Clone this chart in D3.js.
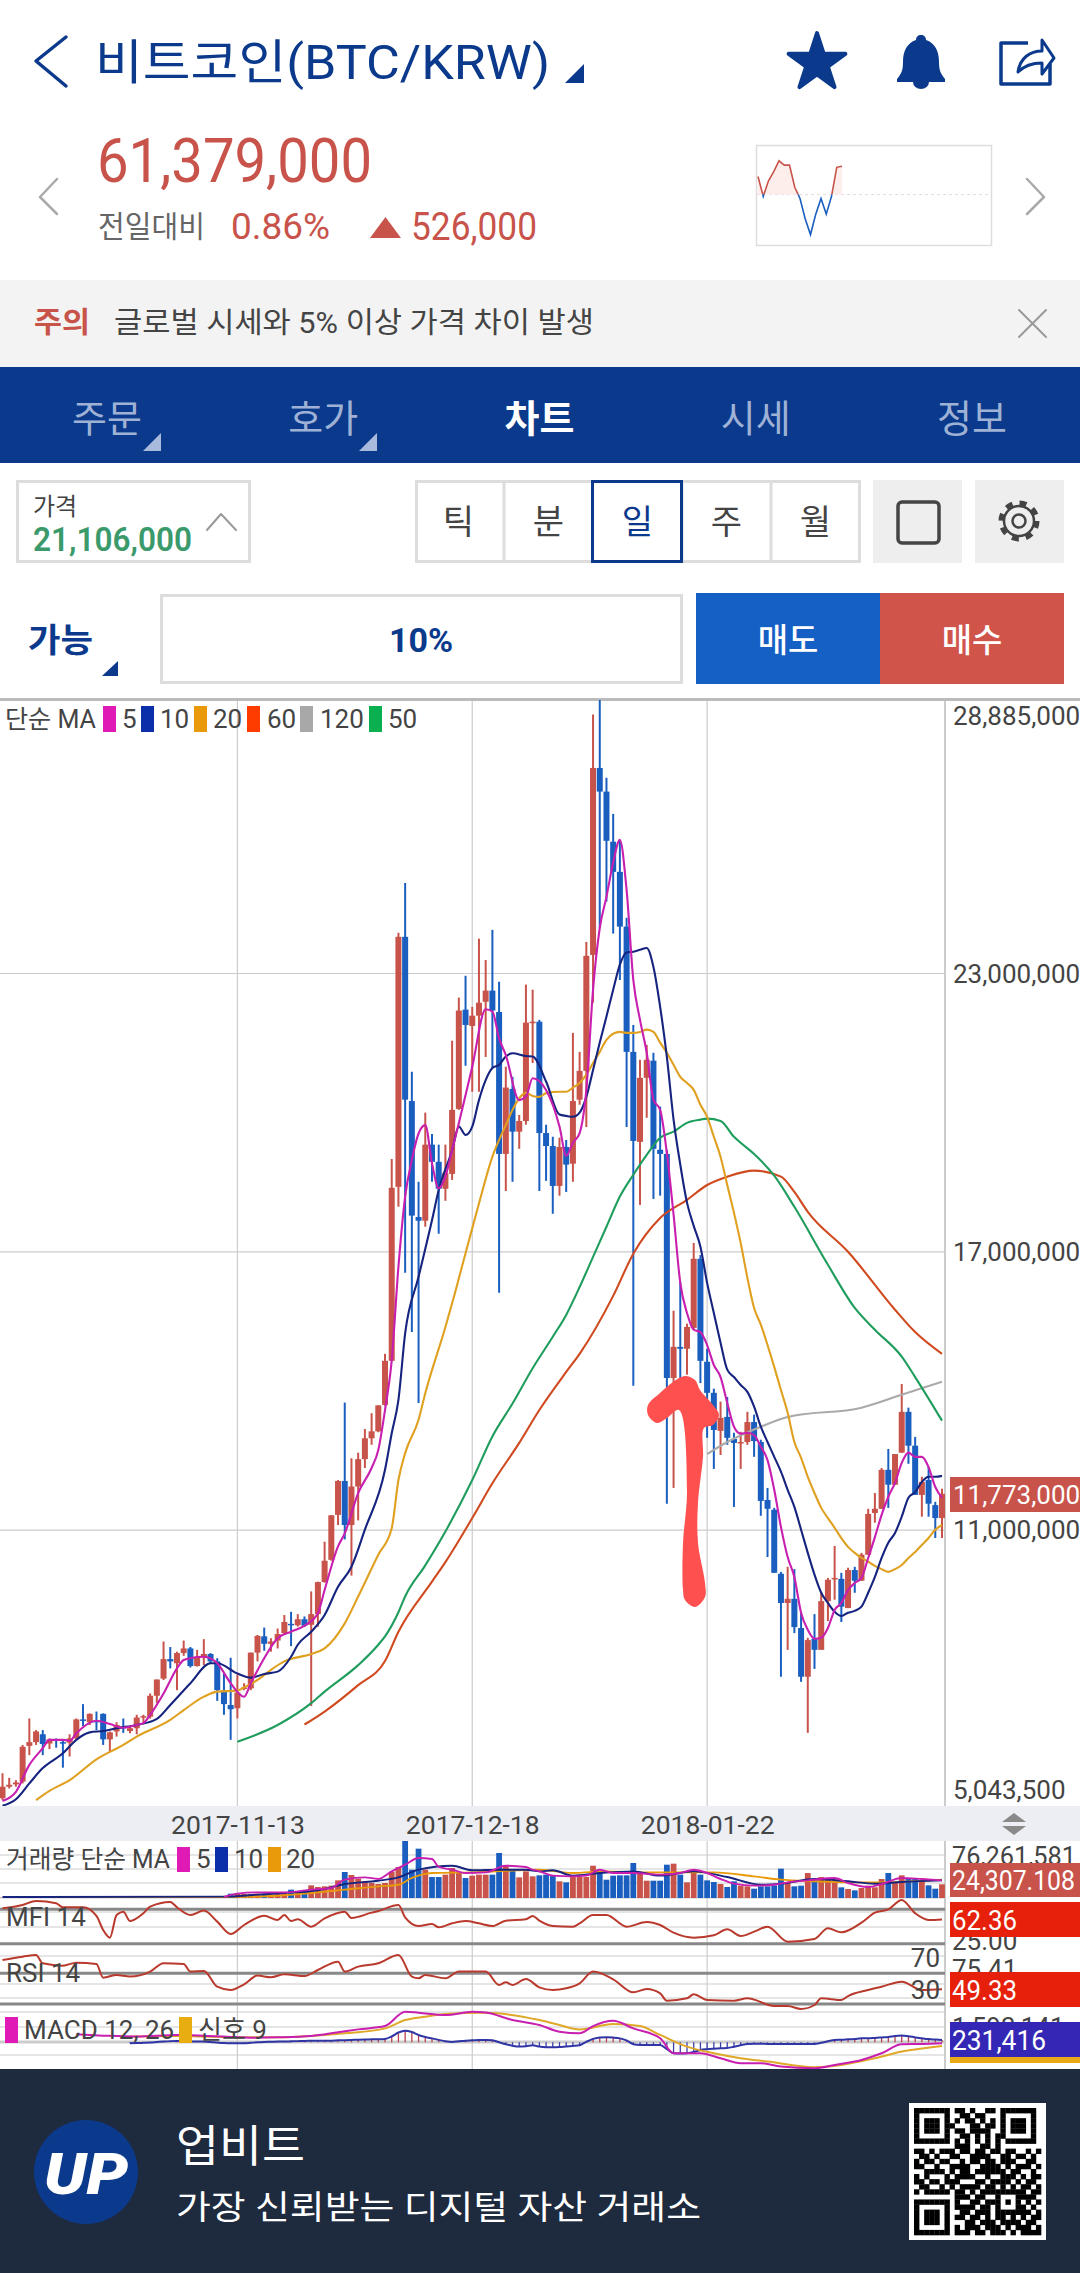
<!DOCTYPE html>
<html lang="ko"><head><meta charset="utf-8">
<script src="https://cdn.jsdelivr.net/npm/d3@7/dist/d3.min.js"></script>
<style>html,body{margin:0;padding:0;background:#fff}svg{display:block}</style></head><body>
<svg id="c" width="1080" height="2273" viewBox="0 0 1080 2273"></svg>
<script>
// ---------- data (prices in million KRW, volume in million units of display) ----------
const dateLabels = ["2017-11-13","2017-12-18","2018-01-22"];
const dateIndex = [35,70,105];
const priceTicks = [28.885,23,17,11,5.0435];
const lastPrice = "11,773,000";
const candleOpen = [5.21,5.46,5.51,5.57,6.34,6.42,6.59,6.39,6.48,6.42,6.41,6.50,6.91,6.85,6.88,7.03,6.48,6.65,6.75,6.66,6.72,6.95,6.97,7.42,7.79,8.21,8.12,8.34,8.44,8.06,8.25,8.32,8.16,7.53,7.22,7.15,7.58,7.58,8.35,8.70,8.54,8.61,8.77,8.97,8.94,9.07,8.95,9.18,9.87,10.35,11.32,12.05,11.10,11.93,12.52,12.97,13.12,13.69,14.64,18.39,23.78,20.24,17.74,17.66,19.30,18.93,18.35,18.67,20.07,22.21,21.86,22.08,22.38,22.62,22.16,19.10,20.50,19.58,19.81,21.93,21.95,19.55,19.27,18.41,19.25,18.89,20.27,20.89,23.39,27.42,26.91,25.83,25.18,24.00,21.30,19.36,20.74,21.11,19.19,19.10,14.27,14.94,14.90,15.35,16.84,14.62,13.95,13.13,13.43,12.96,12.87,12.89,13.32,12.89,11.64,11.43,10.05,9.42,9.51,8.88,7.83,8.65,8.41,9.46,9.94,9.94,9.31,10.13,9.90,10.46,11.36,11.45,12.29,11.97,12.66,13.54,12.81,11.75,12.07,11.53,11.25];
const candleHigh = [5.75,5.65,5.60,6.36,6.93,6.68,6.68,6.50,6.50,6.47,6.59,6.93,7.24,7.04,7.08,7.04,6.65,6.85,6.93,6.75,7.01,7.01,7.47,7.77,8.59,8.47,8.37,8.61,8.47,8.41,8.64,8.34,8.23,7.90,8.24,7.87,7.69,8.35,8.73,8.89,8.66,8.87,9.16,9.23,9.18,9.13,9.67,9.88,10.74,11.31,12.07,13.74,12.54,12.66,13.17,13.51,13.68,14.79,18.99,23.87,24.94,20.87,18.50,19.99,19.53,19.30,19.30,21.54,22.47,22.94,22.27,23.74,23.28,23.93,22.81,20.98,20.76,19.94,22.75,22.64,21.99,19.73,19.47,19.45,19.40,21.71,21.30,23.67,28.57,28.89,27.21,26.43,25.87,24.19,21.88,21.13,21.45,21.28,20.12,19.19,15.72,16.34,15.44,17.18,16.92,14.90,14.04,13.76,13.86,13.09,13.11,13.54,13.48,12.94,11.90,11.47,10.09,10.20,10.15,9.23,8.67,9.18,9.66,9.96,10.65,10.07,10.18,10.20,10.50,11.45,11.79,12.33,12.74,12.63,14.14,13.63,13.00,12.14,12.35,11.60,11.88];
const candleLow = [5.17,5.42,5.46,5.53,6.14,6.36,6.14,6.27,6.30,5.87,6.11,6.47,6.77,6.79,6.68,6.36,6.21,6.54,6.62,6.61,6.59,6.83,6.93,7.26,7.76,8.01,7.54,8.28,8.03,8.05,8.08,8.12,7.31,7.01,6.47,6.93,7.54,7.54,8.16,8.39,8.37,8.44,8.73,8.49,8.91,8.90,7.20,8.91,9.86,10.33,11.10,10.79,10.01,11.20,12.33,12.83,13.10,13.67,14.64,17.96,16.54,15.26,13.73,17.53,18.50,17.38,18.09,18.54,20.05,21.00,20.44,20.44,21.19,20.96,16.11,18.30,18.50,19.21,19.73,21.06,18.30,18.52,17.81,18.20,18.28,18.50,20.16,19.68,22.36,23.97,24.54,23.85,22.85,19.68,14.10,18.00,19.88,18.13,18.20,11.56,11.90,14.01,14.34,15.31,14.16,12.98,12.31,12.61,12.83,11.49,12.31,12.83,12.57,11.30,10.41,10.07,7.83,8.41,8.77,7.72,6.62,8.00,8.41,9.03,9.49,9.01,9.31,9.64,9.90,10.46,11.15,11.45,11.47,11.97,12.66,12.42,11.75,11.28,11.28,10.82,10.82];
const candleClose = [5.46,5.50,5.55,6.32,6.42,6.65,6.38,6.48,6.46,6.39,6.50,6.91,6.88,7.03,6.85,6.48,6.63,6.79,6.72,6.72,6.95,6.98,7.42,7.77,8.21,8.16,8.34,8.44,8.06,8.26,8.32,8.16,7.54,7.24,7.13,7.49,7.60,8.35,8.71,8.54,8.59,8.75,9.01,8.94,9.07,8.93,9.18,9.87,10.33,11.31,12.05,11.10,11.93,12.52,12.97,13.12,13.68,14.64,18.37,23.78,20.27,17.77,17.66,19.30,18.93,18.35,18.69,20.05,22.19,21.88,22.08,22.36,22.62,22.19,19.10,20.53,19.58,19.81,21.93,21.95,19.55,19.27,18.41,19.25,18.87,20.24,20.89,23.37,27.42,26.91,25.85,25.18,24.00,21.30,19.38,20.74,21.13,19.21,19.10,14.27,14.94,14.90,15.37,16.84,14.64,13.95,13.15,13.41,12.98,12.87,12.89,13.32,12.91,11.62,11.45,10.07,9.42,9.51,8.90,7.83,8.62,8.41,9.46,9.92,9.96,9.34,10.13,9.90,10.46,11.34,11.45,12.29,11.97,12.63,13.54,12.81,11.75,12.03,11.56,11.25,11.773];
const ma5 = [[0,5.15],[2,5.35],[4,5.93],[6,6.29],[7,6.47],[9,6.47],[10,6.45],[11,6.61],[14,6.88],[16,6.81],[18,6.73],[20,6.79],[21,6.83],[22,7.01],[24,7.47],[26,8.01],[27,8.19],[28,8.23],[30,8.26],[32,8.12],[34,7.69],[36,7.40],[37,7.69],[39,8.23],[41,8.66],[43,8.80],[45,8.93],[47,9.20],[48,9.70],[50,10.64],[51,10.92],[53,11.79],[55,12.33],[56,12.72],[57,13.58],[58,14.65],[59,16.67],[60,18.18],[61,18.97],[62,19.54],[63,19.72],[64,18.90],[65,18.36],[66,18.61],[67,19.18],[68,19.76],[70,20.98],[72,22.22],[73,22.17],[74,21.59],[75,21.23],[77,20.26],[78,20.33],[79,20.73],[81,20.48],[83,19.69],[84,19.06],[85,19.34],[86,19.55],[87,20.48],[88,22.64],[89,23.97],[90,24.64],[91,25.38],[92,25.87],[93,24.79],[94,22.85],[95,21.99],[96,21.28],[97,20.27],[98,20.05],[99,19.12],[100,17.79],[101,16.32],[102,15.67],[103,15.31],[104,15.26],[105,14.98],[106,14.55],[107,14.29],[108,13.73],[109,13.22],[110,13.07],[111,13.09],[112,13.04],[113,12.79],[114,12.50],[115,11.86],[116,11.06],[117,10.41],[118,9.98],[119,9.21],[120,8.84],[121,8.65],[122,8.67],[123,8.88],[124,9.27],[125,9.42],[126,9.70],[127,9.85],[128,9.96],[129,10.39],[130,10.84],[131,11.32],[132,11.71],[133,12.01],[134,12.44],[135,12.66],[136,12.57],[137,12.57],[138,12.35],[139,11.92],[140,11.69]];
const ma10 = [[0,5.05],[2,5.19],[4,5.53],[6,5.86],[9,6.18],[11,6.47],[13,6.63],[15,6.66],[17,6.72],[20,6.79],[23,6.92],[25,7.22],[28,7.69],[31,8.12],[32,8.12],[35,7.90],[37,7.81],[39,7.89],[41,7.94],[43,8.26],[44,8.52],[46,8.80],[48,9.16],[50,9.77],[52,10.20],[54,11.00],[57,12.29],[58,13.08],[59,13.80],[60,15.23],[62,16.45],[64,17.67],[65,18.32],[67,19.18],[68,19.69],[69,19.51],[70,19.69],[71,20.26],[72,20.69],[73,20.95],[74,21.02],[75,21.20],[76,21.27],[78,21.21],[79,21.20],[81,20.66],[83,19.95],[84,19.92],[85,19.90],[86,19.99],[87,20.33],[88,20.91],[89,21.50],[90,22.06],[91,22.64],[92,23.18],[93,23.44],[94,23.46],[95,23.50],[96,23.54],[97,23.13],[98,22.27],[99,21.19],[100,19.84],[101,18.87],[102,18.05],[103,17.55],[104,17.10],[105,16.32],[106,15.67],[107,15.03],[108,14.45],[109,14.29],[110,14.12],[111,13.97],[112,13.65],[113,13.22],[114,12.89],[115,12.57],[116,12.25],[117,11.86],[118,11.49],[119,11.00],[120,10.50],[121,10.03],[122,9.64],[123,9.42],[124,9.23],[125,9.14],[126,9.21],[127,9.25],[128,9.34],[129,9.64],[130,9.98],[131,10.39],[132,10.72],[133,10.93],[134,11.28],[135,11.69],[136,11.81],[137,12.03],[138,12.14],[139,12.14],[140,12.16]];
const ma20 = [[5,5.17],[7,5.37],[10,5.60],[14,6.05],[18,6.36],[20,6.54],[25,6.90],[27,7.11],[30,7.40],[32,7.51],[35,7.53],[36,7.60],[38,7.76],[40,7.98],[42,8.16],[46,8.32],[48,8.44],[51,8.98],[53,9.56],[56,10.46],[58,11.03],[59,12.07],[60,12.65],[62,13.37],[63,13.94],[66,15.37],[67,15.88],[69,16.96],[71,18.03],[73,19.04],[75,19.72],[76,20.05],[77,20.30],[78,20.42],[79,20.35],[80,20.33],[81,20.41],[83,20.44],[84,20.44],[85,20.53],[86,20.63],[87,20.81],[88,21.06],[89,21.30],[90,21.56],[91,21.69],[92,21.73],[93,21.71],[94,21.71],[95,21.73],[96,21.78],[97,21.73],[98,21.50],[99,21.28],[100,21.02],[101,20.76],[102,20.63],[103,20.48],[104,20.16],[105,19.90],[106,19.47],[107,19.04],[108,18.43],[109,17.83],[110,17.18],[111,16.43],[112,15.78],[113,15.42],[114,14.98],[115,14.51],[116,14.01],[117,13.52],[118,12.89],[119,12.55],[120,12.14],[121,11.79],[122,11.47],[123,11.25],[124,11.04],[125,10.82],[126,10.63],[127,10.50],[128,10.39],[129,10.31],[130,10.22],[131,10.15],[132,10.09],[133,10.15],[134,10.24],[135,10.39],[136,10.52],[137,10.67],[138,10.82],[139,11.00],[140,11.10]];
const ma50 = [[35,6.43],[41,6.79],[46,7.26],[48,7.51],[53,8.08],[56,8.52],[57,8.70],[59,9.22],[60,9.56],[63,10.23],[66,10.96],[70,12.07],[73,13.01],[76,13.72],[79,14.48],[82,15.16],[84,15.63],[86,16.23],[88,16.88],[90,17.53],[92,18.18],[94,18.65],[96,19.08],[98,19.45],[100,19.58],[102,19.77],[104,19.84],[105,19.86],[107,19.81],[109,19.47],[110,19.34],[112,19.10],[115,18.63],[118,17.96],[123,16.71],[127,15.78],[130,15.31],[134,14.73],[136,14.29],[140,13.35]];
const ma60 = [[45,6.80],[48,7.08],[53,7.65],[57,8.17],[59,8.80],[64,9.88],[66,10.30],[70,11.25],[73,12.00],[77,12.87],[80,13.58],[84,14.40],[86,14.79],[91,16.04],[94,16.95],[98,17.72],[102,18.11],[105,18.43],[108,18.61],[112,18.74],[116,18.61],[118,18.28],[120,17.85],[126,16.99],[133,15.74],[136,15.26],[140,14.79]];
const ma120 = [[105,12.63],[108,12.89],[113,13.22],[117,13.43],[128,13.63],[134,13.91],[140,14.19]];
const volume = [0.4,0.4,0.3,0.9,0.6,0.6,0.5,0.5,0.4,0.5,0.5,0.7,0.5,0.5,0.6,0.7,0.5,0.6,0.4,0.4,0.7,0.5,0.9,1.0,1.4,0.9,0.9,0.8,1.0,0.8,0.9,0.9,1.8,2.6,7.7,8.9,7.1,7.1,7.7,7.7,5.9,7.7,10.6,14.8,12.4,13.0,22.5,19.5,20.7,21.9,31.3,46.1,40.8,34.3,29.6,26.6,24.8,26.6,46.7,55.0,101.7,50.2,87.5,50.2,37.2,37.2,41.4,53.2,44.3,35.5,39.6,41.4,41.4,41.4,79.8,57.3,50.2,36.6,47.3,38.4,40.2,41.4,39.6,29.6,27.8,37.2,37.2,37.2,57.3,47.3,32.5,39.6,40.2,40.2,62.1,44.3,30.7,30.7,30.7,59.1,60.9,41.4,27.8,50.2,41.4,31.3,28.4,24.8,19.5,29.6,21.9,20.7,16.5,20.7,20.7,22.5,52.0,26.6,20.7,21.9,44.3,33.7,37.2,34.3,27.8,18.9,16.0,13.6,17.7,21.9,18.9,33.7,44.3,26.6,40.2,35.5,33.7,29.6,22.5,16.5,24.31];
const volMa5 = [[33,1.8],[35,7.7],[38,10.0],[42,10.0],[46,14.8],[49,17.7],[51,32.5],[54,36.6],[56,33.7],[58,47.3],[60,59.1],[62,70.9],[64,69.1],[65,55.0],[67,50.2],[69,44.3],[72,45.5],[75,57.3],[78,55.0],[79,50.2],[80,47.3],[82,39.6],[85,38.4],[87,39.6],[89,50.2],[91,44.3],[94,44.3],[98,41.4],[101,44.3],[103,50.2],[105,44.3],[107,33.7],[109,25.4],[112,21.9],[115,23.6],[117,27.8],[120,31.3],[124,35.5],[126,26.6],[129,19.5],[131,24.8],[134,35.5],[137,33.7],[140,31.3]];
const volMa10 = [[0,1.8],[5,1.8],[33,2.4],[38,5.9],[42,8.9],[47,13.6],[51,24.8],[56,30.7],[59,36.6],[62,50.2],[67,57.3],[70,49.1],[74,50.2],[78,50.2],[80,47.3],[82,49.1],[85,39.6],[89,44.3],[94,47.3],[98,39.6],[103,47.3],[108,37.2],[113,23.6],[116,25.4],[121,33.7],[126,29.6],[130,25.4],[134,28.4],[140,31.3]];
const volMa20 = [[5,1.8],[33,1.8],[41,4.1],[46,8.9],[51,14.8],[56,20.7],[59,23.6],[61,35.5],[64,44.3],[70,45.5],[80,50.2],[85,44.3],[90,47.3],[95,45.5],[101,45.5],[106,45.5],[112,38.4],[116,32.5],[121,29.6],[126,27.8],[131,27.8],[140,32.5]];
const mfi = [[0,81.7],[3,87.6],[5,94.6],[8,90.5],[9,83.5],[12,83.5],[14,68.4],[15,43.9],[16,30.5],[17,70.1],[18,75.9],[19,59.6],[21,73.0],[22,84.7],[25,92.8],[26,83.5],[28,70.1],[30,77.7],[32,58.5],[34,36.9],[36,52.6],[39,68.9],[41,61.4],[42,70.1],[43,59.6],[44,62.5],[46,49.7],[48,64.3],[51,75.9],[52,64.9],[55,74.2],[56,77.1],[59,87.6],[60,66.0],[62,50.9],[64,54.4],[65,48.5],[67,55.5],[69,59.6],[71,55.5],[73,50.9],[75,60.2],[78,62.5],[79,68.4],[80,60.2],[82,50.9],[85,49.7],[86,55.5],[88,70.1],[90,70.1],[93,49.7],[96,57.9],[98,52.6],[100,39.2],[103,30.5],[106,34.6],[108,45.1],[110,33.4],[112,41.0],[114,49.7],[117,23.5],[121,28.2],[123,46.8],[125,39.8],[128,56.7],[130,74.2],[132,80.0],[134,96.3],[136,73.0],[138,61.4],[140,62.36]];
const rsi = [[0,87.4],[3,91.7],[5,93.9],[6,83.0],[9,80.0],[11,83.9],[14,82.2],[15,64.3],[17,67.8],[19,65.7],[22,72.2],[24,83.0],[27,82.2],[28,72.2],[30,73.0],[32,52.6],[34,48.3],[36,55.7],[38,67.0],[40,64.8],[42,68.7],[45,66.5],[47,74.3],[50,85.2],[51,72.2],[53,78.7],[56,83.0],[59,93.9],[61,65.7],[62,63.5],[63,67.8],[66,63.5],[68,72.2],[70,72.2],[72,72.2],[74,54.8],[75,58.3],[76,54.8],[78,62.6],[80,51.7],[82,48.3],[84,50.4],[86,57.0],[88,72.2],[91,62.2],[94,45.2],[96,49.6],[98,43.9],[99,34.3],[102,37.4],[103,42.6],[105,35.2],[109,34.3],[111,37.4],[115,27.4],[117,27.4],[119,23.5],[121,28.7],[122,37.4],[125,35.2],[126,40.4],[129,48.3],[131,52.6],[134,59.1],[137,48.3],[140,49.33]];
const macd = [[11,0.81],[15,0.68],[20,0.58],[26,0.75],[30,0.68],[37,0.47],[41,0.51],[46,0.64],[50,1.02],[53,1.32],[57,1.66],[60,3.12],[62,3.02],[66,2.78],[70,3.12],[72,3.05],[76,2.27],[80,1.76],[83,1.08],[86,0.92],[88,1.66],[91,2.20],[94,1.42],[98,0.41],[100,-1.12],[102,-1.12],[104,-1.12],[107,-1.63],[110,-2.14],[113,-2.14],[116,-2.47],[121,-2.64],[124,-2.31],[128,-1.80],[131,-1.12],[134,-0.20],[137,-0.17],[140,-0.10]];
const signal = [[19,0.58],[26,0.64],[36,0.51],[41,0.51],[46,0.64],[51,0.92],[57,1.42],[60,2.27],[63,2.61],[66,2.88],[72,3.02],[80,2.27],[83,1.76],[86,1.32],[91,1.86],[95,1.66],[98,0.75],[102,-0.44],[106,-1.12],[110,-1.63],[114,-1.97],[121,-2.54],[125,-2.31],[130,-1.63],[134,-0.95],[140,-0.37]];
const oscStart = 19;
const oscillator = [-.10,-.08,-.05,-.02,.03,.08,.12,.14,.12,.10,.08,.07,.03,-.03,-.08,-.10,-.10,-.10,-.05,0,.03,.05,.07,.08,.10,.12,.14,.15,.16,.17,.17,.20,.22,.24,.26,.28,.30,.31,.34,.60,1.0,1.19,1.05,.75,.55,.40,.25,.10,.03,.10,.17,.20,.24,.24,.20,0,-.20,-.35,-.44,-.40,-.30,-.44,-.50,-.51,-.48,-.42,-.37,-.30,.05,.35,.50,.51,.48,.40,.20,-.20,-.27,-.27,-.27,-.27,-.70,-1.12,-1.15,-1.12,-1.00,-.78,-.70,-.65,-.61,-.58,-.45,-.30,-.17,-.15,-.15,-.17,-.17,-.17,-.17,-.17,-.17,-.17,-.17,-.05,.10,.24,.26,.30,.34,.41,.41,.45,.50,.55,.65,.70,.62,.50,.41,.33,.28,.23];
const sparkValues = [61.19,60.82,61.11,61.28,61.48,61.40,61.40,60.99,60.78,60.40,60.11,60.49,60.78,60.49,60.82,61.36,61.379];
const maLegend = [["5","#e01ab5"],["10","#0a2fa8"],["20","#e89a0a"],["60","#ff3c00"],["120","#a8a8a8"],["50","#0ab050"]];
const tabs = ["주문","호가","차트","시세","정보"];
const periods = ["틱","분","일","주","월"];
const qrRows = [
"1111111011010011011111110",
"1000001001101100010000010",
"1011101010110101010111010",
"1011101100011011010111010",
"1011101011011110010111010",
"1000001001101010110000010",
"1111111010101010101111110",
"0000000011100110100000000",
"1101011101101101101100101",
"0110100110011110011011010",
"1011011001011011011100110",
"1100100111100111101011101",
"0011110101101111110110010",
"1010001011110010011101011",
"1101101110001101111010110",
"0110010101111011010101101",
"1011111011010111111111011",
"0000000011101100100011110",
"1111111010011011101010101",
"1000001011110110100011010",
"1011101001101110111111101",
"1011101011011010110101011",
"1011101000110111011110110",
"1000001010111011101011101",
"1111111011101101110101111"];

// ---------- helpers ----------
const FONT = "Roboto,'Noto Sans CJK KR',sans-serif";
const svg = d3.select("#c").attr("font-family",FONT);
function text(g,x,y,s,o={}){
  const t=g.append("text").attr("x",x).attr("y",y).text(s)
    .attr("font-size",o.size||26).attr("fill",o.fill||"#444")
    .attr("text-anchor",o.anchor||"start").attr("dominant-baseline","central");
  if(o.weight) t.attr("font-weight",o.weight);
  if(o.style) t.attr("font-style",o.style);
  if(o.len) t.attr("textLength",o.len).attr("lengthAdjust","spacingAndGlyphs");
  return t;
}
function rect(g,x,y,w,h,fill,stroke,sw){
  return g.append("rect").attr("x",x).attr("y",y).attr("width",w).attr("height",h)
    .attr("fill",fill||"none").attr("stroke",stroke||"none").attr("stroke-width",sw||0);
}
function poly(g,pts,fill){ return g.append("path").attr("d",d3.line()(pts)+"Z").attr("fill",fill); }
function stroke(g,pts,color,w){ return g.append("path").attr("d",d3.line()(pts)).attr("fill","none").attr("stroke",color).attr("stroke-width",w).attr("stroke-linecap","round").attr("stroke-linejoin","round"); }

const NAVY="#0b3a8c", RED="#c8534a", BLUE="#1a5fc0", PLOT_R=945;

// ---------- scales ----------
const x = d3.scaleLinear().domain([0,140]).range([2.5,942]);
const yPrice = d3.scaleLinear().domain([5.0435,28.885]).range([1806,700]);
const yVol = d3.scaleLinear().domain([0,76.261581]).range([1898,1855]);
const yMfi = d3.scaleLinear().domain([20,80]).range([1943.7,1909.3]);
const yRsi = d3.scaleLinear().domain([30,70]).range([2004,1973.3]);
const yMacd = d3.scaleLinear().domain([0,1.593141]).range([2042.3,2026.7]);

// ---------- page chrome: header ----------
const head = svg.append("g");
stroke(head,[[66,37],[36,61],[66,86]],NAVY,3.5);
text(head,95,62,"비트코인(BTC/KRW)",{size:48,fill:NAVY,len:455});
poly(head,[[565,83],[584,83],[584,64]],NAVY);
head.append("path").attr("d",d3.symbol(d3.symbolStar,1000)()).attr("transform","translate(817,63)").attr("fill",NAVY).attr("stroke",NAVY).attr("stroke-width",4).attr("stroke-linejoin","round");
head.append("path").attr("d","M921,35c-3,0-5,2-5,5c-9,3-13,11-13,22c0,9-2,12-6,17l0,3h16a8,7 0 0 0 16,0h16l0-3c-4-5-6-8-6-17c0-11-4-19-13-22c0-3-2-5-5-5z").attr("fill",NAVY);
head.append("path").attr("d","M1028,43h-27v41h49v-20").attr("fill","none").attr("stroke",NAVY).attr("stroke-width",3.5).attr("stroke-linejoin","round");
head.append("path").attr("d","M1018,72c2-14,12-21,24-21v-11l12,18l-12,16v-11c-10,0-18,3-24,9z").attr("fill","none").attr("stroke",NAVY).attr("stroke-width",3).attr("stroke-linejoin","round");
text(head,97,160,"61,379,000",{size:62,fill:RED,len:275});
text(head,98,226,"전일대비",{size:30,fill:"#666",len:107});
text(head,231,227,"0.86%",{size:36,fill:RED,len:99});
poly(head,[[370,238],[401,238],[385.5,217]],RED);
text(head,411,227,"526,000",{size:38,fill:RED,len:126});
stroke(head,[[57,179],[40,197],[57,214]],"#aaa",2.5);
stroke(head,[[1027,179],[1044,197],[1027,214]],"#aaa",2.5);
rect(head,756.5,145.5,235,100,"#fff","#ddd",1.5);
const spX=d3.scaleLinear().domain([0,sparkValues.length-1]).range([758,842]);
const spY=d3.scaleLinear().domain([59.916,61.775]).range([245,145]);
head.append("line").attr("x1",757).attr("x2",991).attr("y1",spY(60.853)).attr("y2",spY(60.853)).attr("stroke","#ddd").attr("stroke-dasharray","3,3");
const spLine=d3.line().x((d,i)=>spX(i)).y(d=>spY(d));
head.append("path").attr("d",d3.area().x((d,i)=>spX(i)).y0(spY(60.853)).y1(d=>spY(Math.max(d,60.853)))(sparkValues)).attr("fill","#fdeeec");
head.append("clipPath").attr("id","spUp").append("rect").attr("x",750).attr("y",140).attr("width",240).attr("height",spY(60.853)-140);
head.append("clipPath").attr("id","spDn").append("rect").attr("x",750).attr("y",spY(60.853)).attr("width",240).attr("height",60);
head.append("path").attr("d",spLine(sparkValues)).attr("fill","none").attr("stroke",RED).attr("stroke-width",1.6).attr("clip-path","url(#spUp)");
head.append("path").attr("d",spLine(sparkValues)).attr("fill","none").attr("stroke",BLUE).attr("stroke-width",1.6).attr("clip-path","url(#spDn)");

// notice
rect(svg,0,280,1080,87,"#f3f3f3");
text(svg,34,323,"주의",{size:29,fill:RED,weight:700,len:56});
text(svg,114,323,"글로벌 시세와 5% 이상 가격 차이 발생",{size:29,fill:"#444",len:480});
stroke(svg,[[1019,310],[1046,337]],"#999",2);
stroke(svg,[[1046,310],[1019,337]],"#999",2);

// tabs
rect(svg,0,367,1080,96,NAVY);
const tabX=d3.scalePoint().domain(tabs).range([107,972]);
tabs.forEach(t=>text(svg,tabX(t),419,t,{size:38,anchor:"middle",fill:t==="차트"?"#fff":"#9fb2d5",weight:t==="차트"?700:400}));
poly(svg,[[143,451],[161,451],[161,433]],"#a9bbdc");
poly(svg,[[359,451],[377,451],[377,433]],"#a9bbdc");

// controls
rect(svg,17.5,481.5,232,80,"#fff","#ddd",3);
text(svg,33,507,"가격",{size:24,fill:"#444"});
text(svg,33,539,"21,106,000",{size:33,fill:"#3b9a6b",weight:600,len:159});
stroke(svg,[[207,530],[221,514],[236,530]],"#999",2);
rect(svg,416.5,481.5,443,80,"#fff","#ddd",3);
const perX=d3.scaleBand().domain(periods).range([415,860]);
periods.forEach((p,i)=>{
  if(i>0) svg.append("line").attr("x1",perX(p)).attr("x2",perX(p)).attr("y1",481).attr("y2",562).attr("stroke","#ddd").attr("stroke-width",3);
});
rect(svg,592.5,481.5,89,80,"#fff",NAVY,3);
periods.forEach(p=>text(svg,perX(p)+perX.bandwidth()/2+(p==="틱"?-1:0),522,p,{size:34,anchor:"middle",fill:p==="일"?NAVY:"#444"}));
rect(svg,873,480,89,83,"#eee");
rect(svg,898,502,41,41,"none","#444",3.5).attr("rx",4);
rect(svg,975,480,89,83,"#eee");
svg.append("circle").attr("cx",1019).attr("cy",521).attr("r",15).attr("fill","none").attr("stroke","#444").attr("stroke-width",2.5);
svg.append("circle").attr("cx",1019).attr("cy",521).attr("r",18).attr("fill","none").attr("stroke","#444").attr("stroke-width",5).attr("stroke-dasharray","7,7.14");
svg.append("circle").attr("cx",1019).attr("cy",521).attr("r",6.5).attr("fill","none").attr("stroke","#444").attr("stroke-width",2.5);
text(svg,28,640,"가능",{size:33,fill:NAVY,weight:700,len:65});
poly(svg,[[102,676],[118,676],[118,661]],NAVY);
rect(svg,161.5,595.5,520,87,"#fff","#ddd",3);
text(svg,421,640,"10%",{size:34,fill:NAVY,weight:700,anchor:"middle"});
rect(svg,696,593,184,91,"#1560c4");
rect(svg,880,593,184,91,"#d0544a");
text(svg,788,640,"매도",{size:33,fill:"#fff",weight:500,anchor:"middle"});
text(svg,972,640,"매수",{size:33,fill:"#fff",weight:500,anchor:"middle"});

// ---------- main chart ----------
const chart = svg.append("g");
chart.append("g").attr("transform",`translate(${PLOT_R},0)`)
  .call(d3.axisLeft(yPrice).tickValues(priceTicks.slice(1,4)).tickSize(PLOT_R).tickFormat(""))
  .call(g=>g.select(".domain").remove())
  .selectAll("line").attr("stroke","#ccc").attr("stroke-width",1.2);
const vGrid = [[700,1806],[1841,2069]];
vGrid.forEach(([a,b])=>dateIndex.forEach(i=>chart.append("line").attr("x1",x(i)).attr("x2",x(i)).attr("y1",a).attr("y2",b).attr("stroke","#ccc").attr("stroke-width",1.2)));
chart.append("line").attr("x1",PLOT_R).attr("x2",PLOT_R).attr("y1",700).attr("y2",2069).attr("stroke","#bbb").attr("stroke-width",1.5);
rect(chart,0,698,1080,3,"#bbb");

chart.append("clipPath").attr("id","plot").append("rect").attr("x",0).attr("y",700).attr("width",PLOT_R).attr("height",1106);
const plot = chart.append("g").attr("clip-path","url(#plot)");
const idx = d3.range(candleOpen.length);
const col = i=>candleClose[i]>=candleOpen[i]?RED:BLUE;
plot.selectAll(".wick").data(idx).join("line").attr("class","wick")
  .attr("x1",i=>x(i)).attr("x2",i=>x(i)).attr("y1",i=>yPrice(candleHigh[i])).attr("y2",i=>yPrice(candleLow[i]))
  .attr("stroke",col).attr("stroke-width",2);
plot.selectAll(".body").data(idx).join("rect").attr("class","body")
  .attr("x",i=>x(i)-3).attr("width",6)
  .attr("y",i=>yPrice(Math.max(candleOpen[i],candleClose[i])))
  .attr("height",i=>Math.max(1.5,Math.abs(yPrice(candleOpen[i])-yPrice(candleClose[i]))))
  .attr("fill",col);
const pairLine = (ys,curve=d3.curveMonotoneX)=>d3.line().x(d=>x(d[0])).y(d=>ys(d[1])).curve(curve);
function series(g,data,ys,color,w=2.1){
  g.append("path").attr("d",pairLine(ys)(data)).attr("fill","none").attr("stroke",color).attr("stroke-width",w).attr("stroke-linejoin","round");
}
series(plot,ma120,yPrice,"#aaaaaa");
series(plot,ma60,yPrice,"#d04a20");
series(plot,ma50,yPrice,"#1f9d5c");
series(plot,ma20,yPrice,"#e0a020");
series(plot,ma10,yPrice,"#16247f");
series(plot,ma5,yPrice,"#c81fb0");

// hand-drawn arrow annotation
plot.append("path").attr("d",d3.line().curve(d3.curveCatmullRomClosed)([[683,1590],[683,1543],[687,1490],[679,1410],[667,1418],[657,1423],[648,1415],[648,1405],[660,1393],[673,1382],[685,1376],[695,1380],[700,1390],[713,1405],[719,1415],[713,1425],[704,1428],[703,1457],[698,1503],[698,1543],[705,1583],[705,1597],[695,1607],[685,1600]])).attr("fill","#ff5050");

// price axis labels
const yAxis = chart.append("g").attr("transform",`translate(${PLOT_R},0)`)
  .call(d3.axisRight(yPrice).tickValues(priceTicks).tickSize(0).tickPadding(8).tickFormat(v=>d3.format(",")(Math.round(v*1e6))));
yAxis.select(".domain").remove();
yAxis.selectAll("text").attr("font-size",26).attr("font-family",FONT).attr("fill","#444")
  .attr("dy",d=>d===28.885?"0.95em":d===5.0435?"-0.3em":"0.35em");
rect(chart,950,1477,130,35,RED);
text(chart,953,1495,lastPrice,{size:26,fill:"#fff"});
// legend
text(chart,5,719,"단순 MA",{size:25,len:91});
const legX=[103,141,194,247,300,369], legT=[122,160,213,267,320,388];
maLegend.forEach((d,i)=>{
  rect(chart,legX[i],706,13,26,d[1]);
  text(chart,legT[i],719,d[0],{size:26});
});

// date band
rect(svg,0,1806,1080,35,"#eceef3");
const dAxis = svg.append("g").attr("transform","translate(0,1806)")
  .call(d3.axisBottom(x).tickValues(dateIndex).tickSize(0).tickPadding(7).tickFormat((d,i)=>dateLabels[i]));
dAxis.select(".domain").remove();
dAxis.selectAll("text").attr("font-size",26.5).attr("font-family",FONT).attr("fill","#444").attr("dy","0.78em");
poly(svg,[[1002,1822],[1026,1822],[1014,1813]],"#8a8a8a");
poly(svg,[[1002,1826],[1026,1826],[1014,1835]],"#8a8a8a");

// ---------- indicator panels ----------
const panel = svg.append("g");
[1855,1869,1883,1898,1912,1927,1956,1984,1998,2012,2027,2055].forEach(y=>
  panel.append("line").attr("x1",0).attr("x2",PLOT_R).attr("y1",y).attr("y2",y).attr("stroke","#ccc").attr("stroke-width",1.2));
panel.append("line").attr("x1",0).attr("x2",PLOT_R).attr("y1",2042).attr("y2",2042).attr("stroke","#ccc").attr("stroke-width",3);
[yMfi(80),yMfi(20),yRsi(70),yRsi(30)].forEach(y=>
  panel.append("line").attr("x1",0).attr("x2",PLOT_R).attr("y1",y).attr("y2",y).attr("stroke","#888").attr("stroke-width",3));

// volume
panel.append("clipPath").attr("id","volClip").append("rect").attr("x",0).attr("y",1841).attr("width",PLOT_R).attr("height",58);
const vg = panel.append("g").attr("clip-path","url(#volClip)");
vg.selectAll(".vol").data(idx).join("rect").attr("class","vol")
  .attr("x",i=>x(i)-2.9).attr("width",5.8).attr("y",i=>yVol(volume[i])).attr("height",i=>1898-yVol(volume[i])).attr("fill",col);
series(vg,volMa20,yVol,"#e89a0a",1.9);
series(vg,volMa10,yVol,"#16247f",1.9);
series(vg,volMa5,yVol,"#c81fb0",1.9);

// MFI, RSI, MACD
series(panel,mfi,yMfi,"#b93a2c",2);
series(panel,rsi,yRsi,"#b93a2c",2);
const oscIdx = d3.range(oscillator.length);
panel.selectAll(".osc").data(oscIdx).join("line").attr("class","osc")
  .attr("x1",i=>x(i+oscStart)).attr("x2",i=>x(i+oscStart))
  .attr("y1",yMacd(0)).attr("y2",i=>yMacd(oscillator[i]))
  .attr("stroke",i=>oscillator[i]>=0?"#b9404a":"#3a3fa8").attr("stroke-width",1.3);
series(panel,oscillator.map((v,i)=>[i+oscStart,v]),yMacd,"#2f35a5",2);
series(panel,signal,yMacd,"#e0a828",2);
series(panel,macd,yMacd,"#c81fb0",2);

// panel legends
text(panel,6,1859,"거래량 단순 MA",{size:25,len:164});
rect(panel,177,1847,13,25,"#e01ab5"); text(panel,196,1859,"5",{size:26});
rect(panel,215,1847,13,25,"#0a2fa8"); text(panel,234,1859,"10",{size:26});
rect(panel,268,1847,13,25,"#e89a0a"); text(panel,286,1859,"20",{size:26});
text(panel,6,1917,"MFI 14",{size:26});
text(panel,6,1973,"RSI 14",{size:26});
rect(panel,5,2017,13,26,"#e01ab5");
text(panel,24,2030,"MACD 12, 26",{size:26});
rect(panel,179,2017,13,26,"#e8ad10");
text(panel,198,2030,"신호 9",{size:26});
text(panel,940,1958,"70",{size:26,anchor:"end"});
text(panel,940,1990,"30",{size:26,anchor:"end"});

// right labels (ticks partly covered by value boxes, as in the app)
const rLab = svg.append("g");
rect(rLab,946,1841,134,228,"#fff");
text(rLab,952,1856,"76,261,581",{size:26,len:124});
text(rLab,952,1941,"25.00",{size:26});
text(rLab,952,1969,"75.41",{size:26});
text(rLab,952,2027,"1,593,141",{size:26});
const boxes=[[1863,34,RED,"24,307.108",123],[1902,35,"#e6200a","62.36",65],[1972,35,"#e6200a","49.33",65],[2022,35,"#3527b5","231,416",94]];
boxes.forEach(b=>{rect(rLab,950,b[0],130,b[1],b[2]);text(rLab,952,b[0]+b[1]/2+1,b[3],{size:27,fill:"#fff",len:b[4]});});
rect(rLab,950,2057,130,6,"#e8a817");

// ---------- footer ----------
const foot = svg.append("g");
rect(foot,0,2069,1080,204,"#1e2a3d");
foot.append("circle").attr("cx",86).attr("cy",2172).attr("r",52).attr("fill",NAVY);
text(foot,86,2174,"UP",{size:58,fill:"#fff",weight:900,style:"italic",anchor:"middle",len:84});
text(foot,176,2147,"업비트",{size:44,fill:"#fff",len:129});
text(foot,176,2207,"가장 신뢰받는 디지털 자산 거래소",{size:33,fill:"#fff",len:525});
rect(foot,909,2103,137,137,"#fff");
const qrX=d3.scaleBand().domain(d3.range(25)).range([914,1041]);
const qrY=d3.scaleBand().domain(d3.range(25)).range([2108,2235]);
qrRows.forEach((row,r)=>[...row].forEach((b,c)=>{ if(b==="1") rect(foot,qrX(c),qrY(r),qrX.bandwidth()+.3,qrY.bandwidth()+.3,"#000"); }));
</script></body></html>
